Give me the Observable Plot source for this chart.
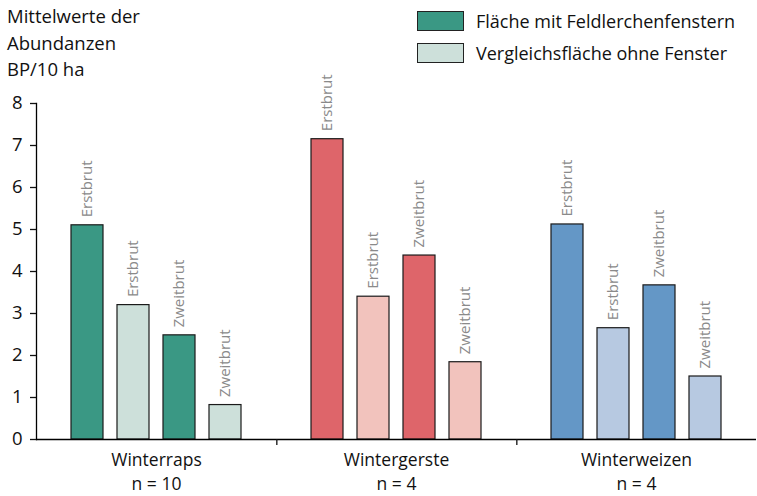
<!DOCTYPE html>
<html>
<head>
<meta charset="utf-8">
<script src="https://cdn.jsdelivr.net/npm/d3@7"></script>
<script src="https://cdn.jsdelivr.net/npm/@observablehq/plot@0.6"></script>
<style>
  html, body { margin: 0; padding: 0; background: #fff; }
  #wrap { position: relative; width: 757px; height: 496px; font-family: "Open Sans", sans-serif; color: #111; }
  #title { position: absolute; left: 7px; top: 3px; font-size: 18.5px; line-height: 26.5px; }
  #legend { position: absolute; left: 417px; top: 11px; font-size: 18px; }
  .item { display: flex; align-items: center; height: 20px; margin-bottom: 12px; }
  .sw { width: 45px; height: 18px; border: 1px solid #222; margin-right: 12px; flex: none; }
  #chart { position: absolute; left: 0; top: 0; }
</style>
</head>
<body>
<div id="wrap">
  <div id="chart"></div>
  <div id="title">Mittelwerte der<br>Abundanzen<br>BP/10 ha</div>
  <div id="legend"></div>
</div>
<script>
const crops = ["Winterraps", "Wintergerste", "Winterweizen"];
const sampleSizes = [10, 4, 4];
const broods = ["Erstbrut", "Erstbrut", "Zweitbrut", "Zweitbrut"];
const areaTypes = ["mit", "ohne", "mit", "ohne"];
const winterraps = [5.1, 3.2, 2.48, 0.82];
const wintergerste = [7.15, 3.4, 4.38, 1.84];
const winterweizen = [5.12, 2.65, 3.67, 1.5];
const legendLabels = ["Fläche mit Feldlerchenfenstern", "Vergleichsfläche ohne Fenster"];
const darkColors = ["#3a9884", "#de656a", "#6497c6"];
const lightColors = ["#cde0da", "#f2c3bd", "#b7c9e1"];
const yTicks = [0, 1, 2, 3, 4, 5, 6, 7, 8];

const seriesValues = [winterraps, wintergerste, winterweizen];
const data = crops.flatMap((c, i) => seriesValues[i].map((v, j) => ({
  crop: c, idx: j, value: v, brood: broods[j], key: c + "|" + areaTypes[j]
})));
const colorDomain = crops.flatMap(c => [c + "|mit", c + "|ohne"]);
const colorRange = crops.flatMap((c, i) => [darkColors[i], lightColors[i]]);

const W = 757, H = 496, mL = 35, mR = 0, mT = 103, mB = 57;
const halfBand = (W - mL - mR) / crops.length / 2;

const chart = Plot.plot({
  width: W, height: H,
  marginLeft: mL, marginRight: mR, marginTop: mT, marginBottom: mB,
  style: { fontFamily: "Open Sans, sans-serif", fontSize: "18.5px", color: "#111", background: "transparent" },
  fx: { domain: crops, padding: 0, label: null },
  x: { domain: [0, 1, 2, 3], paddingInner: 0.315, paddingOuter: 0.7375, axis: null },
  y: { domain: [0, 8] },
  color: { domain: colorDomain, range: colorRange },
  marks: [
    Plot.barY(data, { fx: "crop", x: "idx", y: "value", fill: "key", stroke: "#1a1a1a", strokeWidth: 1.2 }),
    Plot.text(data, { fx: "crop", x: "idx", y: "value", text: "brood", rotate: -90, textAnchor: "start",
      dy: -8, fill: "#8a8a8a", fontSize: 15 }),
    Plot.ruleY([0], { stroke: "#000", strokeWidth: 1.3 }),
    Plot.frame({ anchor: "left", facetAnchor: "left", stroke: "#000", strokeWidth: 1.3 }),
    Plot.axisY({ ticks: yTicks, tickSize: 6, tickPadding: 8, label: null, strokeWidth: 1.3, fontSize: 18.5, fill: "#111" }),
    Plot.axisFx({ anchor: "bottom", tickSize: 0, tickPadding: 9, label: null, lineHeight: 1.38, fontSize: 17.5,
      tickFormat: c => `${c}\nn = ${sampleSizes[crops.indexOf(c)]}` }),
    Plot.axisFx({ anchor: "bottom", ticks: crops.slice(0, -1), tickSize: 6, tickFormat: () => "", label: null,
      dx: halfBand, strokeWidth: 1.3 })
  ]
});
document.getElementById("chart").appendChild(chart);

const legend = document.getElementById("legend");
legendLabels.forEach((lab, i) => {
  const item = document.createElement("div");
  item.className = "item";
  const sw = document.createElement("div");
  sw.className = "sw";
  sw.style.background = i === 0 ? darkColors[0] : lightColors[0];
  const t = document.createElement("span");
  t.textContent = lab;
  item.appendChild(sw);
  item.appendChild(t);
  legend.appendChild(item);
});
</script>
</body>
</html>
